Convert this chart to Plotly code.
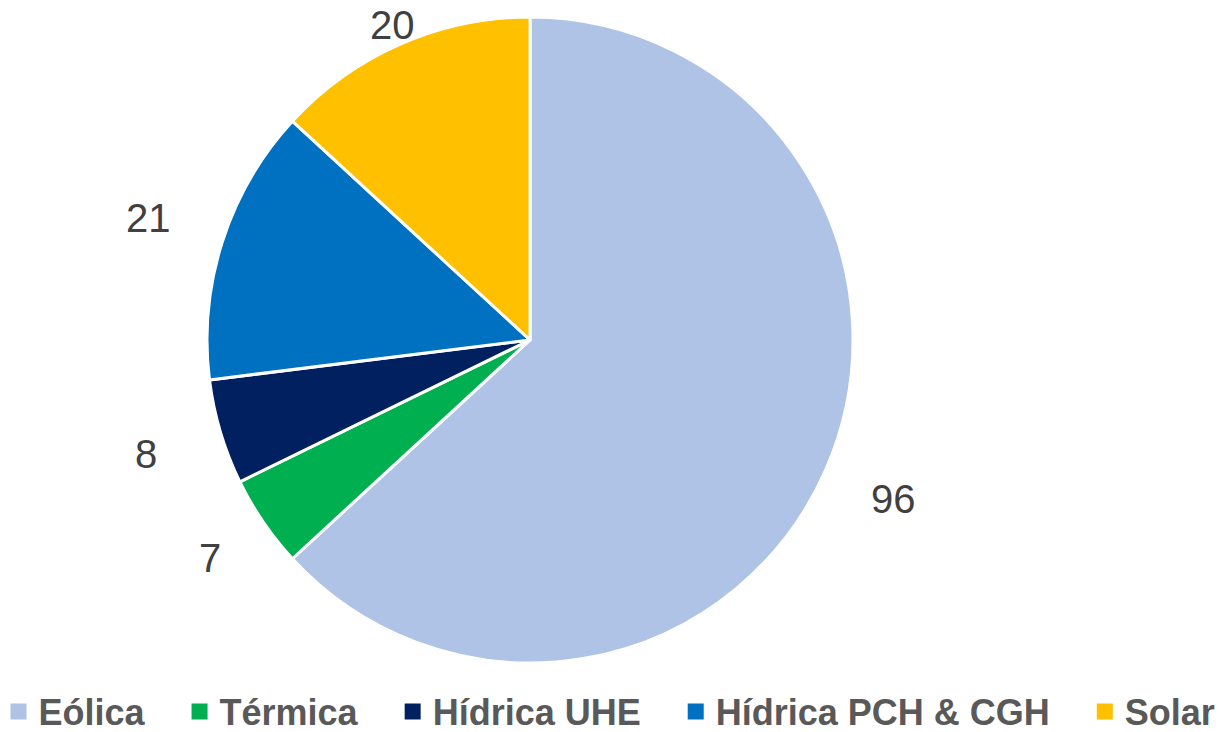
import math
import plotly.graph_objects as go

categories = ["Eólica", "Térmica", "Hídrica UHE", "Hídrica PCH & CGH", "Solar"]
values = [96, 7, 8, 21, 20]
colors = ["#AEC3E5", "#00B050", "#002060", "#0070C0", "#FFC000"]

W, H = 1219, 732
FONT = "Liberation Sans Narrow, Arial Narrow, Liberation Sans, Arial, sans-serif"

# pie placement (paper fractions)
dom_x = [0.1698, 0.6998]
dom_y = [0.0943, 0.9768]

fig = go.Figure()
fig.add_trace(go.Pie(
    labels=categories,
    values=values,
    sort=False,
    direction="clockwise",
    rotation=0,
    marker=dict(colors=colors, line=dict(color="white", width=3)),
    textinfo="none",
    hoverinfo="label+value",
    domain=dict(x=dom_x, y=dom_y),
    showlegend=False,
))

# legend entries (square swatches)
spacer = "\u00a0\u00a0\u00a0"
for i, (c, col) in enumerate(zip(categories, colors)):
    fig.add_trace(go.Scatter(
        x=[None], y=[None], mode="markers",
        name=c + (spacer if i < len(categories) - 1 else ""),
        marker=dict(symbol="square", size=17, color=col),
        hoverinfo="skip",
    ))

# outside value labels at each slice's mid-angle, derived from the data
cx = (dom_x[0] + dom_x[1]) / 2 * W
cy = (1 - (dom_y[0] + dom_y[1]) / 2) * H
r = min((dom_x[1] - dom_x[0]) * W, (dom_y[1] - dom_y[0]) * H) / 2
total = sum(values)
cum = 0
annotations = []
for v in values:
    mid = (cum + v / 2) / total * 2 * math.pi
    cum += v
    dx, dy = math.sin(mid), -math.cos(mid)
    dist = r * (0.935 + 0.32 * abs(dx))
    px = cx + dist * dx
    py = cy + dist * dy
    annotations.append(dict(
        x=px / W, y=1 - py / H, xref="paper", yref="paper",
        text=str(v), showarrow=False, xanchor="center", yanchor="middle",
        font=dict(family=FONT, size=40, color="#404040"),
    ))

fig.update_layout(
    width=W, height=H,
    margin=dict(l=0, r=0, t=0, b=0, autoexpand=False),
    paper_bgcolor="white",
    plot_bgcolor="white",
    xaxis=dict(visible=False),
    yaxis=dict(visible=False),
    annotations=annotations,
    showlegend=True,
    legend=dict(
        orientation="h", x=0.5, xanchor="center", y=-0.013, yanchor="bottom",
        bgcolor="rgba(0,0,0,0)",
        font=dict(family=FONT, size=36, color="#595959", weight="bold"),
        itemclick=False, itemdoubleclick=False,
        traceorder="normal",
    ),
)

fig.write_html("out.html", config={"displayModeBar": False},
               post_script="document.body.style.margin='0';")
